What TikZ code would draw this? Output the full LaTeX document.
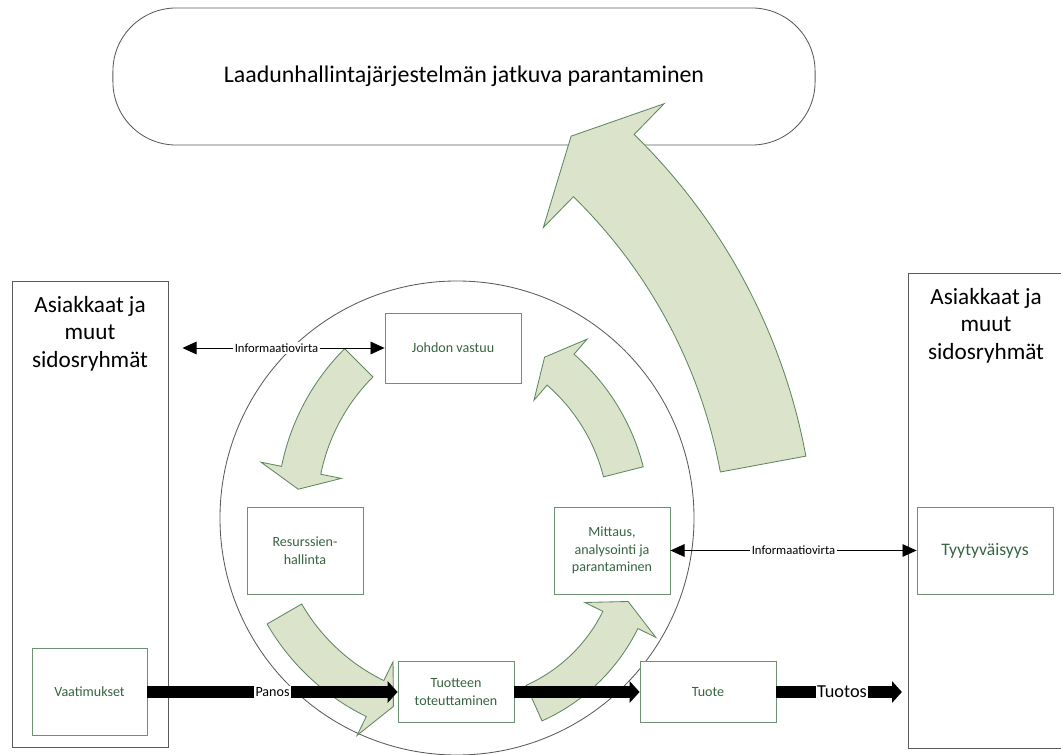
\documentclass[tikz,border=0pt]{standalone}
\usepackage{fontspec}
\setmainfont{Carlito}
\usetikzlibrary{arrows.meta,calc,positioning}

\definecolor{boxgreen}{RGB}{110,145,115}
\definecolor{textgreen}{RGB}{55,100,65}
\definecolor{arrowfill}{RGB}{219,227,203}
\definecolor{arrowedge}{RGB}{95,135,95}
\definecolor{linegrey}{RGB}{90,90,90}

% curved block arrow: centre, inner radius, outer radius, start angle, shaft end angle, tip angle, barb overhang
\newcommand{\bendarrow}[7]{%
  \filldraw[cyclearrow] ($(#1)+(#4:#2)$) arc[start angle=#4, end angle=#5, radius=#2]
    -- ($(#1)+(#5:{#2-#7})$) -- ($(#1)+(#6:{(#2+#3)/2})$) -- ($(#1)+(#5:{#3+#7})$)
    -- ($(#1)+(#5:#3)$) arc[start angle=#5, end angle=#4, radius=#3] -- cycle;
}

\begin{document}
\begin{tikzpicture}[x=0.025cm,y=-0.025cm,
  every node/.style={inner sep=0pt},
  stepbox/.style={draw=boxgreen, line width=0.6pt, fill=white, text=textgreen, align=center,
    font=\fontsize{10}{12.6}\selectfont},
  groupbox/.style={draw=linegrey, line width=0.6pt, minimum width=3.9cm},
  grouptitle/.style={align=center, font=\fontsize{16.5}{19.6}\selectfont},
  cyclearrow/.style={fill=arrowfill, draw=arrowedge, line width=0.6pt, line join=miter},
  infoflow/.style={line width=0.6pt, {Triangle[length=10pt,width=9pt]}-{Triangle[length=10pt,width=9pt]}},
  flowlabel/.style={fill=white, inner sep=1pt, font=\fontsize{9}{11}\selectfont},
  mainflow/.style={line width=8.5pt, -{Triangle[length=7pt,width=15pt]}}]
  \useasboundingbox (0,0) rectangle (1061,755);

  % goal
  \node[draw=linegrey, line width=0.6pt, rounded corners=45pt, minimum width=17.55cm, minimum height=3.425cm,
    font=\fontsize{17}{20}\selectfont] (goal) at (464,76.5) {Laadunhallintajärjestelmän jatkuva parantaminen};

  % process ring
  \draw[linegrey, line width=0.6pt] (457,518) circle[radius=237];

  % stakeholders
  \node[groupbox, minimum height=11.65cm] (leftgroup) at (90,514) {};
  \node[grouptitle, below=11pt of leftgroup.north] (lefttitle) {Asiakkaat ja\\muut\\sidosryhmät};
  \node[groupbox, minimum height=11.875cm] (rightgroup) at (986,510.5) {};
  \node[grouptitle, below=11pt of rightgroup.north] (righttitle) {Asiakkaat ja\\muut\\sidosryhmät};

  % cycle arrows
  \bendarrow{508,512}{191}{231}{-135}{-168.6}{-173.8}{21}
  \bendarrow{468,508}{192}{232}{150}{116}{110.6}{21}
  \bendarrow{429,521}{180}{221}{-14.2}{-49}{-54.8}{20}
  \bendarrow{462,542}{157}{196}{65.9}{26.2}{19.7}{20}
  \bendarrow{213,566}{516}{603}{-10.5}{-45.7}{-50.2}{43}

  % steps
  \node[stepbox, minimum width=3.4cm, minimum height=1.75cm] (johdon) at (453,348) {Johdon vastuu};
  \node[stepbox, minimum width=2.9cm, minimum height=2.175cm] (resurssit) at (305,550.5) {Resurssien-\\hallinta};
  \node[stepbox, minimum width=2.9cm, minimum height=2.175cm] (mittaus) at (612,550.5) {Mittaus,\\analysointi ja\\parantaminen};
  \node[stepbox, minimum width=3.4cm, minimum height=2.175cm, font=\fontsize{12.5}{15}\selectfont] (tyytyvaisyys) at (985,550.5) {Tyytyväisyys};
  \node[stepbox, minimum width=2.875cm, minimum height=2.175cm] (vaatimukset) at (89.5,692) {Vaatimukset};
  \node[stepbox, minimum width=2.9cm, minimum height=1.525cm] (toteutus) at (456,692) {Tuotteen\\toteuttaminen};
  \node[stepbox, minimum width=3.4cm, minimum height=1.525cm] (tuote) at (708,692) {Tuote};

  % information flows
  \draw[infoflow, shorten <=10pt] (johdon.west -| leftgroup.east) -- node[flowlabel] {Informaatiovirta} (johdon.west);
  \draw[infoflow] (mittaus.east) -- node[flowlabel] {Informaatiovirta} (tyytyvaisyys.west);

  % product flow
  \draw[mainflow] (vaatimukset.east) -- node[flowlabel, font=\fontsize{10}{12}\selectfont] {Panos} (toteutus.west);
  \draw[mainflow] (toteutus.east) -- (tuote.west);
  \draw[mainflow, shorten >=4pt] (tuote.east) -- node[flowlabel, font=\fontsize{13}{15}\selectfont] {Tuotos} (tuote.east -| rightgroup.west);
\end{tikzpicture}
\end{document}
